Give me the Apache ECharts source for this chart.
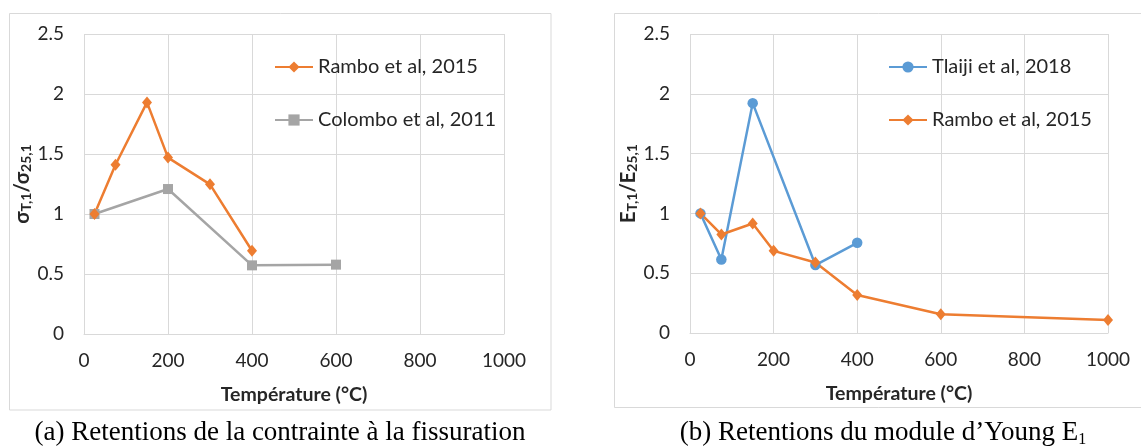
<!DOCTYPE html>
<html>
<head>
<meta charset="utf-8">
<script src="https://cdn.jsdelivr.net/npm/echarts@6/dist/echarts.min.js"></script>
<style>
  html, body { margin: 0; padding: 0; background: #fff; }
  #main { width: 1141px; height: 446px; }
</style>
</head>
<body>
<div id="main"></div>
<script>
// (a) contrainte a la fissuration
var ramboA_T = [25, 75, 150, 200, 300, 400];
var ramboA_V = [1.0, 1.41, 1.93, 1.47, 1.247, 0.694];
var colombo_T = [25, 200, 400, 600];
var colombo_V = [1.0, 1.208, 0.572, 0.578];

// (b) module d'Young
var tlaiji_T = [25, 75, 150, 300, 400];
var tlaiji_V = [1.0, 0.615, 1.922, 0.568, 0.754];
var ramboB_T = [25, 75, 150, 200, 300, 400, 600, 1000];
var ramboB_V = [1.0, 0.824, 0.916, 0.687, 0.59, 0.317, 0.156, 0.108];

// axes
var xTicks = [0, 200, 400, 600, 800, 1000];
var yTicks = [0, 0.5, 1, 1.5, 2, 2.5];

var font = 'Lato, "Noto Sans", sans-serif';
var gridColor = '#d9d9d9';
var textColor = '#262626';

function pairs(xs, ys) {
    return xs.map(function (x, i) { return [x, ys[i]]; });
}

function xAxisCfg(idx) {
    return {
        type: 'value', gridIndex: idx,
        min: xTicks[0], max: xTicks[xTicks.length - 1], interval: xTicks[1] - xTicks[0],
        name: 'Température (°C)', nameLocation: 'middle', nameGap: 51,
        nameTextStyle: { fontFamily: font, fontSize: 19.5, fontWeight: 'bold', color: textColor },
        axisLine: { show: true, lineStyle: { color: gridColor, width: 1 } },
        axisTick: { show: false },
        splitLine: { show: true, lineStyle: { color: gridColor, width: 1 } },
        axisLabel: { fontFamily: font, fontSize: 19, color: textColor, margin: 17, formatter: function (v) { return String(v); } }
    };
}

function yAxisCfg(idx, sym) {
    return {
        type: 'value', gridIndex: idx,
        min: yTicks[0], max: yTicks[yTicks.length - 1], interval: yTicks[1] - yTicks[0],
        name: '{m|' + sym + '}{s|T,1}{m|/' + sym + '}{s|25,1}',
        nameLocation: 'middle', nameGap: 44, nameRotate: 90,
        nameTextStyle: {
            rich: {
                m: { fontFamily: font, fontSize: 20, fontWeight: 'bold', color: textColor, lineHeight: 22, verticalAlign: 'middle' },
                s: { fontFamily: font, fontSize: 14, fontWeight: 'bold', color: textColor, lineHeight: 12, verticalAlign: 'bottom' }
            }
        },
        axisLine: { show: false },
        axisTick: { show: false },
        splitLine: { show: true, lineStyle: { color: gridColor, width: 1 } },
        axisLabel: { fontFamily: font, fontSize: 19, color: textColor, margin: 20 }
    };
}

var orange = '#ed7d31', grey = '#a5a5a5', blue = '#5b9bd5';

function lineSeries(name, data, idx, color, symbol, size) {
    return {
        name: name, type: 'line', data: data,
        xAxisIndex: idx, yAxisIndex: idx,
        symbol: symbol, symbolSize: size, showSymbol: true,
        lineStyle: { color: color, width: 2.5 },
        itemStyle: { color: color },
        animation: false
    };
}

var myChart = echarts.init(document.getElementById('main'));

var legendText = { fontFamily: font, fontSize: 20, lineHeight: 20, color: textColor };

option = {
    backgroundColor: '#fff',
    grid: [
        { left: 84, top: 34, width: 420, height: 300 },
        { left: 690, top: 34, width: 418, height: 299 }
    ],
    xAxis: [xAxisCfg(0), xAxisCfg(1)],
    yAxis: [yAxisCfg(0, 'σ'), yAxisCfg(1, 'E')],
    legend: [
        {
            data: ['Rambo et al, 2015', 'Colombo et al, 2011'],
            orient: 'vertical', left: 269, top: 52,
            itemWidth: 38, itemHeight: 14, itemGap: 33,
            textStyle: legendText
        },
        {
            data: ['Tlaiji et al, 2018', 'Rambo et al, 2015'],
            orient: 'vertical', left: 883, top: 52,
            itemWidth: 38, itemHeight: 14, itemGap: 33,
            textStyle: legendText
        }
    ],
    series: [
        lineSeries('Colombo et al, 2011', pairs(colombo_T, colombo_V), 0, grey, 'rect', 10),
        lineSeries('Rambo et al, 2015', pairs(ramboA_T, ramboA_V), 0, orange, 'diamond', [10, 12]),
        lineSeries('Tlaiji et al, 2018', pairs(tlaiji_T, tlaiji_V), 1, blue, 'circle', 10.5),
        lineSeries('Rambo et al, 2015', pairs(ramboB_T, ramboB_V), 1, orange, 'diamond', [10, 12])
    ],
    graphic: [
        // cadres des deux figures
        { type: 'rect', shape: { x: 9.5, y: 13.5, width: 541.5, height: 396.5 }, style: { fill: 'none', stroke: gridColor, lineWidth: 1 } },
        { type: 'rect', shape: { x: 614.5, y: 13.5, width: 560, height: 394 }, style: { fill: 'none', stroke: gridColor, lineWidth: 1 } },
        // legendes sous les figures
        {
            type: 'text', x: 280, y: 433,
            style: {
                text: '(a) Retentions de la contrainte à la fissuration',
                font: '27px "Liberation Serif", serif', fill: '#000',
                textAlign: 'center', textVerticalAlign: 'middle'
            }
        },
        {
            type: 'text', x: 883, y: 433,
            style: {
                text: '{t|(b) Retentions du module d’Young E}{s|1}',
                textAlign: 'center', textVerticalAlign: 'middle',
                rich: {
                    t: { font: '27px "Liberation Serif", serif', fill: '#000', lineHeight: 30, verticalAlign: 'middle' },
                    s: { font: '16px "Liberation Serif", serif', fill: '#000', lineHeight: 12, verticalAlign: 'bottom' }
                }
            }
        }
    ]
};

myChart.setOption(option);
</script>
</body>
</html>
